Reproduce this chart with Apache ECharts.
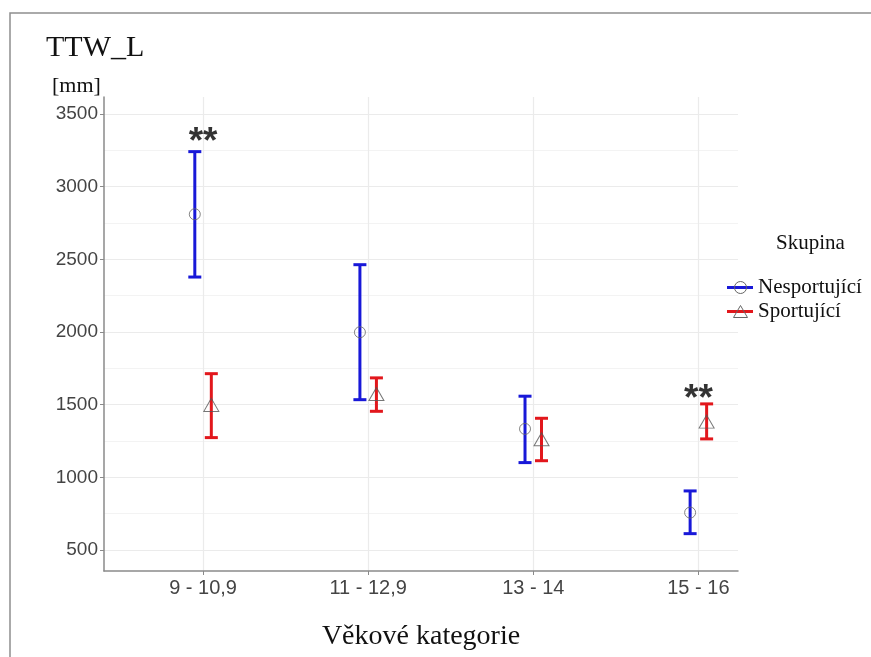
<!DOCTYPE html>
<html>
<head>
<meta charset="utf-8">
<title>TTW_L</title>
<script src="https://cdn.jsdelivr.net/npm/echarts@6/dist/echarts.min.js"></script>
<style>
  html, body { margin: 0; padding: 0; background: #fff; }
  #chart { width: 871px; height: 657px; }
</style>
</head>
<body>
<div id="chart"></div>
<script>
// data
var categories = ['9 - 10,9', '11 - 12,9', '13 - 14', '15 - 16']
var groups = ['Nesportující', 'Sportující']

var nespMean = [2810, 1998, 1333, 757]
var nespLow = [2378, 1534, 1101, 612]
var nespHigh = [3241, 2463, 1558, 906]

var sportMean = [1498, 1573, 1262, 1383]
var sportLow = [1273, 1454, 1114, 1264]
var sportHigh = [1713, 1684, 1406, 1505]

// significance marks (category index, height in mm)
var signifCat = [0, 3]
var signifY = [3300, 1535]

var yTicks = [500, 1000, 1500, 2000, 2500, 3000, 3500]
var yMinor = [750, 1250, 1750, 2250, 2750, 3250]

var blue = '#1818d8'
var red = '#e2171c'
var dodge = 0.05

function barData(low, high, shift) {
  return low.map(function (v, i) { return [i + 1 + shift, v, high[i]] })
}
function pointData(mean, shift) {
  return mean.map(function (v, i) { return [i + 1 + shift, v] })
}
function errorBar(color) {
  return function (params, api) {
    var x = api.value(0)
    var lo = api.coord([x, api.value(1)])
    var hi = api.coord([x, api.value(2)])
    var w = 6.5
    var style = { stroke: color, lineWidth: 3 }
    return {
      type: 'group',
      children: [
        { type: 'line', shape: { x1: hi[0], y1: hi[1], x2: lo[0], y2: lo[1] }, style: style },
        { type: 'line', shape: { x1: hi[0] - w, y1: hi[1], x2: hi[0] + w, y2: hi[1] }, style: style },
        { type: 'line', shape: { x1: lo[0] - w, y1: lo[1], x2: lo[0] + w, y2: lo[1] }, style: style }
      ]
    }
  }
}

var chart = echarts.init(document.getElementById('chart'))
var serif = 'Liberation Serif'
var sans = 'Liberation Sans'

chart.setOption({
  animation: false,
  backgroundColor: '#fff',
  title: [
    { text: 'TTW_L', left: 46, top: 33, padding: 0,
      textStyle: { fontFamily: serif, fontSize: 30, fontWeight: 'normal', color: '#111' } },
    { text: '[mm]', left: 52, top: 75, padding: 0,
      textStyle: { fontFamily: serif, fontSize: 22, fontWeight: 'normal', color: '#111' } },
    { text: 'Skupina', left: 776, top: 233, padding: 0,
      textStyle: { fontFamily: serif, fontSize: 21, fontWeight: 'normal', color: '#111' } }
  ],
  legend: [
    {
      orient: 'vertical', left: 727, top: 277, padding: 0, itemGap: 3,
      itemWidth: 26, itemHeight: 3, selectedMode: false,
      textStyle: { fontFamily: serif, fontSize: 21, color: '#111' },
      data: [
        { name: groups[0], icon: 'rect', itemStyle: { color: blue } },
        { name: groups[1], icon: 'rect', itemStyle: { color: red } }
      ]
    },
    {
      orient: 'vertical', left: 733, top: 277, padding: 0, itemGap: 3,
      itemWidth: 14, itemHeight: 12, selectedMode: false,
      textStyle: { fontFamily: serif, fontSize: 21, color: 'rgba(0,0,0,0)' },
      data: [
        { name: groups[0], icon: 'circle', itemStyle: { color: 'rgba(0,0,0,0)', borderColor: '#666', borderWidth: 1 } },
        { name: groups[1], icon: 'triangle', itemStyle: { color: 'rgba(0,0,0,0)', borderColor: '#666', borderWidth: 1 } }
      ]
    }
  ],
  grid: { left: 104, right: 133, top: 97, bottom: 86, outerBoundsMode: 'none' },
  xAxis: {
    type: 'value', min: 0.4, max: 4.24,
    name: 'Věkové kategorie', nameLocation: 'middle', nameGap: 52,
    nameTextStyle: { fontFamily: serif, fontSize: 28, color: '#111' },
    axisLine: { show: true, onZero: false, lineStyle: { color: '#8a8a8a', width: 1.5 } },
    axisTick: { show: true, length: 4, customValues: [1, 2, 3, 4], lineStyle: { color: '#8a8a8a' } },
    axisLabel: {
      customValues: [1, 2, 3, 4], margin: 7,
      fontFamily: sans, fontSize: 20, color: '#444',
      formatter: function (v) { return categories[Math.round(v) - 1] }
    },
    splitLine: { show: true, lineStyle: { color: '#ebebeb', width: 1.2 } }
  },
  yAxis: [
    {
      type: 'value', min: 355, max: 3617,
      axisLine: { show: true, lineStyle: { color: '#8a8a8a', width: 1.5 } },
      axisTick: { show: true, length: 4, customValues: yTicks, lineStyle: { color: '#8a8a8a' } },
      axisLabel: {
        customValues: yTicks, margin: 6, fontFamily: sans, fontSize: 19, color: '#444',
        formatter: function (v) { return String(v) }
      },
      splitLine: { show: true, lineStyle: { color: '#ebebeb', width: 1.2 } }
    },
    {
      type: 'value', min: 355, max: 3617, position: 'left',
      axisLine: { show: false },
      axisTick: { show: false, customValues: yMinor },
      axisLabel: { show: false, customValues: yMinor },
      splitLine: { show: true, lineStyle: { color: '#f3f3f3', width: 1.2 } }
    }
  ],
  series: [
    {
      name: groups[0], type: 'custom', silent: true, z: 2,
      renderItem: errorBar(blue), data: barData(nespLow, nespHigh, -dodge)
    },
    {
      name: groups[1], type: 'custom', silent: true, z: 2,
      renderItem: errorBar(red), data: barData(sportLow, sportHigh, dodge)
    },
    {
      name: groups[0], type: 'scatter', silent: true, z: 3,
      symbol: 'circle', symbolSize: 11,
      itemStyle: { color: 'rgba(0,0,0,0)', borderColor: '#666', borderWidth: 1 },
      data: pointData(nespMean, -dodge)
    },
    {
      name: groups[1], type: 'scatter', silent: true, z: 3,
      symbol: 'triangle', symbolSize: [15, 13],
      itemStyle: { color: 'rgba(0,0,0,0)', borderColor: '#555', borderWidth: 1 },
      data: pointData(sportMean, dodge)
    },
    {
      type: 'scatter', silent: true, z: 4,
      symbol: 'circle', symbolSize: 1,
      itemStyle: { color: 'rgba(0,0,0,0)' },
      label: {
        show: true, position: 'inside', formatter: '**',
        fontFamily: sans, fontSize: 37, fontWeight: 'bold', color: '#000'
      },
      data: signifCat.map(function (c, i) { return [c + 1, signifY[i]] })
    }
  ],
  graphic: [
    {
      type: 'polyline', silent: true, z: 0,
      shape: { points: [[10, 660], [10, 13], [875, 13]] },
      style: { fill: null, stroke: '#8f8f8f', lineWidth: 1.5 }
    }
  ]
})
</script>
</body>
</html>
